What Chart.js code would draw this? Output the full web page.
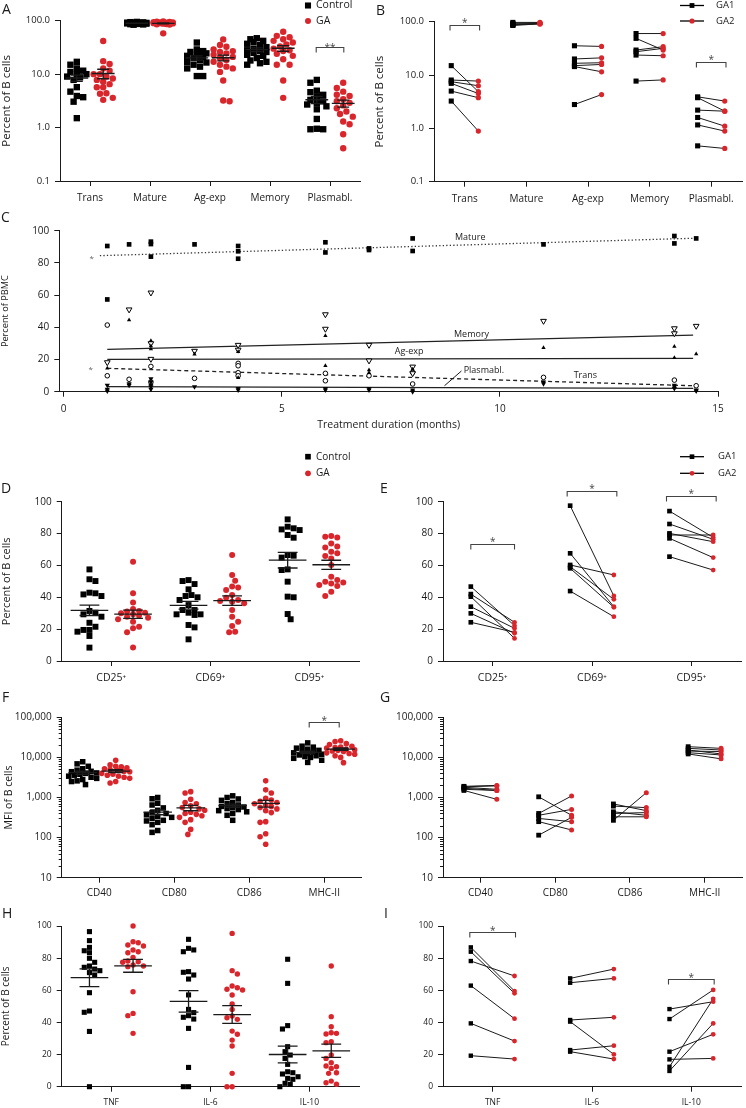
<!DOCTYPE html>
<html><head><meta charset="utf-8">
<script src="https://cdn.jsdelivr.net/npm/chart.js@4.4.1/dist/chart.umd.min.js"></script>
<style>
html,body{margin:0;padding:0;background:#fff;}
body{width:746px;height:1108px;position:relative;overflow:hidden;}
canvas{position:absolute;display:block;}
</style></head><body>
<canvas id="cA"></canvas><canvas id="cB"></canvas><canvas id="cC"></canvas>
<canvas id="cD"></canvas><canvas id="cE"></canvas><canvas id="cF"></canvas>
<canvas id="cG"></canvas><canvas id="cH"></canvas><canvas id="cI"></canvas>
<script>
// ---------------- DATA ----------------
// Panel A: % of B cells, Control vs GA (log scale)
const catA = ['Trans','Mature','Ag-exp','Memory','Plasmabl.'];
const aControl = [
  [17,15,12.8,11.6,11,10,10,8.7,7.8,9,5.7,4.7,3.9,3.7,3.05,1.5],
  [95,94,93,92,92,91,91,90,90,90,89,89,88,88,87,86,85,84],
  [39,29,27,26,24.5,23,22,21,20,18.4,17,16.5,15,13.8,12.8,9.2,9.2],
  [47,45,42,40,37,35,32,30,28,27,26,25,23,22,20,18,17,16,15],
  [7.8,6.9,4.9,4.6,4.1,3.8,3.3,3.1,2.9,2.7,2.5,2.2,1.45,0.95,0.93,0.93]
];
const aGA = [
  [41.6,17.5,15.5,12.8,11.6,10,10,9,8.3,7.8,7.2,6.5,5.7,5.7,4.4,4.3,3.6,3.3],
  [97,96,95,94,93,93,92,92,91,91,90,90,89,88,87,86,85,58],
  [44.7,35,32.6,29,27,26,24.5,23,21,20,18.4,17,15,13.8,12.8,11,7.6,3.2,3.1],
  [62,52,49,45,42,39,36,33,30,28,27,24,22,19,15,15,7.6,3.6],
  [6.9,5.5,4.7,4.1,3.9,3.4,3.1,2.9,2.6,2.3,2.0,1.8,1.6,1.3,1.15,0.75,0.41]
];
// Panel B: paired GA1 -> GA2
const catB = ['Trans','Mature','Ag-exp','Memory','Plasmabl.'];
const bGA1 = [[15,8.06,7.5,6.98,5.0,3.25],[97,93,90,88,87,85],[35.4,20,16.6,15,14.4,2.8],[60,48.7,29.4,27.4,23.7,7.7],[3.9,3.76,2.2,1.6,1.16,0.47]];
const bGA2 = [[4.87,7.7,6.3,4.5,3.76,0.89],[97,95,93,92,92,91],[34.4,21,17,15.8,11.5,4.3],[60,29.4,34,31.6,23,8.1],[3.25,2.1,2.1,1.1,0.89,0.42]];
// Panel C: % of PBMC over treatment duration (months)
const cTicksX = [0,5,10,15];
const matureMonths = [1,1,1.5,2,2,2,3,4,4,4,6,6,7,7,8,8,11,14,14,14.5];
const matureVals   = [90.5,57.3,91.5,93.2,91.7,83.9,91.5,90.5,87.2,82.6,92.8,86.5,89,88,95.2,87.4,91.5,96.7,92.1,95.2];
const memoryMonths = [1,1.5,2,2,2,3,4,4,6,6,7,7,8,8,11,14,14,14.5];
const memoryVals   = [18.2,51,61.5,30,20.3,25.3,29,26,48,39,29,19.3,15.5,11.4,43.9,39.3,36.2,40.8];
const agMonths = [1,1.5,2,2,2,3,4,4,6,6,7,7,8,11,14,14,14.5];
const agVals   = [14.5,44.5,31.7,28.4,26.5,23.2,24.8,8.7,34.8,16.1,13.5,11.8,14,27.3,28,21.1,23.4];
const transMonths = [1,1,1.5,2,2,3,4,4,4,4,6,6,7,8,8,11,14,14.5];
const transVals   = [41.4,9.9,7.7,15.7,6,8.3,17.6,16.1,11.8,9.9,11.4,6.8,9.9,12,4.8,8.9,7.2,3.7];
const plasMonths = [1,1,1,1.5,1.5,2,2,2,2,2,3,4,4,6,6,7,7,8,8,11,11,14,14,14,14.5,14.5];
const plasVals   = [4,1.5,0.5,5,4,8,6,4,3,1.5,3,2,1,2,1,2,1,1,0,6,5,4,3,2,1,0.5];
const matureTrendX = [0.83,14.43], matureTrendY = [84.5,95.3];
const memoryTrendX = [1,14.43],    memoryTrendY = [26.3,35.2];
const agTrendX = [1,14.43],        agTrendY = [20.1,20.7];
const transTrendX = [1,14.43],     transTrendY = [14.5,3.7];
const plasTrendX = [1,14.43],      plasTrendY = [3.1,2.1];
// Panel D: activation markers, Control vs GA
const catD = ['CD25\u207A','CD69\u207A','CD95\u207A'];
const dControl = [
  [57.5,51.3,50.2,42.5,42.9,41.8,40.8,31.4,30.3,29.3,27.8,24,21.5,19.5,19.5,18.4,15.7,8.4],
  [50.8,50.2,48.3,45,41.4,40.8,40,38.3,35.1,32,32,30.3,29.3,29.3,28.9,22.6,21.1,13.6],
  [88.9,84.3,83.3,82.6,82.2,79.1,77.4,66.5,66.1,64.9,57.5,57.1,49.8,40.4,40,29.5,26.2]
];
const dGA = [
  [62.3,42.5,36.8,32.6,31.4,31,30.3,29.9,29.3,28.5,27.8,27.2,26.2,24.7,21.5,20.5,18,8.4],
  [66.5,54,50.4,46.7,46.2,44.6,41.4,39.7,38.3,37.7,37.2,36.2,32,27.8,24.7,22,18.4,18],
  [78.5,78,77.6,73.8,71.8,71.3,68.6,67.6,65.9,64.4,60.3,52.9,50.8,49.8,49.2,48.7,47.7,47.1,43.5,40.8]
];
// Panel E: paired GA1 -> GA2
const catE = ['CD25\u207A','CD69\u207A','CD95\u207A'];
const eGA1 = [[46.7,42,40.4,34.1,29.9,24.3],[97.5,67.6,60.3,59.2,58.2,43.9],[94.1,86,80.1,79.1,77,65.5]];
const eGA2 = [[22.2,24.3,14.2,20.5,17.4,18],[40.8,34.1,54,38.7,33.7,27.8],[77.6,76.4,74.9,79.1,64.9,57.1]];
// Panel F: MFI of B cells, Control vs GA (log)
const catF = ['CD40','CD80','CD86','MHC-II'];
const fControl = [
  [7800,6900,6000,5200,4800,4500,4400,4100,4000,3800,3600,3400,3200,3000,2800,2600,2500,2100],
  [1000,930,720,650,550,480,420,400,370,340,320,300,270,260,240,210,150,135],
  [1100,1000,920,850,750,700,650,600,580,560,530,500,470,440,400,360,270],
  [23000,19000,18000,17000,16000,15000,14000,13500,13000,12500,12000,11500,11000,10500,10000,9500,8500,7500]
];
const fGA = [
  [8500,6500,6000,5800,5500,5200,5000,4800,4500,4400,4000,3800,3600,3400,3200,3000,2500,2300],
  [1400,1300,900,750,700,620,560,520,480,430,400,380,350,320,280,240,160,120],
  [2600,1550,1300,950,870,800,750,700,650,600,560,520,470,420,250,240,125,105,68],
  [26000,25000,22000,21000,19000,18000,17500,17000,16000,15500,15000,14500,14000,13000,12500,12000,11000,10000,7400]
];
// Panel G: paired GA1 -> GA2 (log)
const catG = ['CD40','CD80','CD86','MHC-II'];
const gGA1 = [[1900,1850,1800,1700,1600,1500],[1040,400,360,300,250,115],[690,610,440,400,330,270],[18500,16800,15300,14400,13100,12200]];
const gGA2 = [[2000,1950,1600,1500,1500,900],[360,1090,505,250,155,320],[470,560,360,420,330,1320],[16800,15300,12200,14000,11500,9200]];
// Panel H: cytokines, Control vs GA
const catH = ['TNF','IL-6','IL-10'];
const hControl = [
  [96.5,90.9,86.7,84.6,83.4,79.9,77.4,75.1,74.3,73.2,72.2,71,69.5,58.5,47.1,46.3,34.4,0],
  [91.7,86.1,85.1,84,71.6,71.2,69.5,67,57.1,48.1,46.1,44.2,43.2,42.1,36.3,12,0,0],
  [79.3,64.3,38,35.9,24.9,21.8,19.7,17.6,13.9,9.3,8.7,7.9,6.2,5.2,4.6,2.1,1.5,0]
];
const hGA = [
  [100,90.2,89.6,88.2,87.6,85.1,84,83.4,80.5,78.2,77.8,77.4,75.7,75.1,74.7,59.1,45.6,44.2,33.2],
  [95.4,72.2,70.1,62.7,61.6,60.6,60.2,57.1,51.5,48.1,44,42.9,41.9,34.6,32.6,29,25.3,8.3,0,0],
  [75.1,43.6,37.3,33.6,33.2,32.8,28,27.4,19.7,17.6,14.9,12.9,12.4,11.4,8.7,8.3,3.5,2.5,1.5]
];
// Panel I: paired GA1 -> GA2
const catI = ['TNF','IL-6','IL-10'];
const iGA1 = [[86.7,84,78.2,62.9,39.4,19.3],[67.4,64.7,41.5,40.5,22.8,21.8],[48.3,42.1,21.8,17,12.4,9.8]];
const iGA2 = [[59.5,58.1,68.9,42.3,28.4,17.2],[73.2,67.4,43.2,20.1,25.5,17.2],[52.9,60.2,32.6,17.6,54.6,39.4]];
const linTicks = [0,20,40,60,80,100];

// ---------------- HELPERS ----------------
const RED = '#d9262c';
const INK = '#1a1a1a';
const FONT = "'Open Sans', 'Noto Sans', 'DejaVu Sans', sans-serif";
Chart.defaults.font.family = FONT;
Chart.defaults.color = INK;
const SIDE = 0.22, MEAN_HALF = 0.19, CAP_HALF = 0.1;

const mean = a => a.reduce((s,v)=>s+v,0)/a.length;
const sem = a => { const m=mean(a); const v=a.reduce((s,x)=>s+(x-m)*(x-m),0)/(a.length-1); return Math.sqrt(v/a.length); };
const zip = (xs, ys) => xs.map((x,i)=>({x:x, y:ys[i]}));

function geometry(area, xmin, xmax, ymin, ymax, log) {
  const xs = (area.r-area.l)/(xmax-xmin), h = area.b-area.t;
  const yPx = log ? v => area.b - (Math.log10(v)-Math.log10(ymin))/(Math.log10(ymax)-Math.log10(ymin))*h
                  : v => area.b - (v-ymin)/(ymax-ymin)*h;
  return {xs, yPx};
}
function beeswarm(values, yPx, d, maxHalf) {
  const order = values.map((v,i)=>i).sort((a,b)=>values[b]-values[a]);
  const step = d*0.5, cands=[0];
  for (let k=1; k*step<=maxHalf+1e-9; k++) cands.push(k*step, -k*step);
  const placed=[], off=new Array(values.length).fill(0);
  order.forEach((i,n)=>{
    const py = yPx(values[i]);
    let best=0, bestD=-1;
    for (const c0 of cands) {
      const c = (n%2) ? -c0 : c0;
      let md = Infinity;
      for (const p of placed) { const dd=Math.hypot(c-p.x, py-p.y); if (dd<md) md=dd; }
      if (md>=d) { best=c; bestD=md; break; }
      if (md>bestD) { bestD=md; best=c; }
    }
    off[i]=best; placed.push({x:best,y:py});
  });
  return off;
}
function swarm(groups, side, g, d, half) {
  const pts=[];
  groups.forEach((vals,i)=>{
    const off = beeswarm(vals, g.yPx, d, half);
    vals.forEach((v,k)=>pts.push({x:i+side*SIDE+off[k]/g.xs, y:v}));
  });
  return pts;
}
function meanSem(groups, side) {
  const seg=[];
  groups.forEach((vals,i)=>{
    const c=i+side*SIDE, m=mean(vals), s=sem(vals);
    seg.push({x:c-MEAN_HALF,y:m},{x:c+MEAN_HALF,y:m},{x:c,y:null},
             {x:c,y:m-s},{x:c,y:m+s},{x:c,y:null},
             {x:c-CAP_HALF,y:m+s},{x:c+CAP_HALF,y:m+s},{x:c,y:null},
             {x:c-CAP_HALF,y:m-s},{x:c+CAP_HALF,y:m-s},{x:c,y:null});
  });
  return seg;
}
function swarmSets(ctrl, ga, g, st) {
  return [
    {type:'line', data:meanSem(ctrl,-1).concat(meanSem(ga,1)), borderColor:INK, borderWidth:1.3, pointRadius:0, spanGaps:false, clip:false, order:0},
    {type:'scatter', data:swarm(ga,1,g,st.d,st.half), pointStyle:'circle', pointRadius:st.rc, pointBackgroundColor:RED, pointBorderWidth:0, clip:false, order:1},
    {type:'scatter', data:swarm(ctrl,-1,g,st.d,st.half), pointStyle:'rect', pointRadius:st.rs, pointBackgroundColor:'#000', pointBorderWidth:0, clip:false, order:2}
  ];
}
function pairSets(a, b, st) {
  const p1=[], p2=[], seg=[];
  a.forEach((vals,i)=>vals.forEach((v,k)=>{
    const x1=i-SIDE, x2=i+SIDE, w=b[i][k];
    p1.push({x:x1,y:v}); p2.push({x:x2,y:w});
    seg.push({x:x1,y:v},{x:x2,y:w},{x:i,y:null});
  }));
  return [
    {type:'scatter', data:p1, pointStyle:'rect', pointRadius:st.rs, pointBackgroundColor:'#000', pointBorderWidth:0, clip:false, order:0},
    {type:'scatter', data:p2, pointStyle:'circle', pointRadius:st.rc, pointBackgroundColor:RED, pointBorderWidth:0, clip:false, order:1},
    {type:'line', data:seg, borderColor:INK, borderWidth:1, pointRadius:0, spanGaps:false, clip:false, order:2}
  ];
}
function drawMarker(ctx, style, x, y, r, color) {
  ctx.fillStyle=color; ctx.beginPath();
  if (style==='rect') { const s=r*Math.SQRT1_2; ctx.rect(x-s,y-s,2*s,2*s); }
  else ctx.arc(x,y,r,0,Math.PI*2);
  ctx.fill();
}
function extras(P) {
  return { id:'extras', afterDraw(chart) {
    const ctx=chart.ctx, xs=chart.scales.x, ys=chart.scales.y, ox=P.box.x, oy=P.box.y, E=P.extras||{};
    ctx.save();
    if (E.minor) {
      const lo=Math.round(Math.log10(P.y.min)), hi=Math.round(Math.log10(P.y.max)), xL=chart.chartArea.left;
      ctx.strokeStyle=INK; ctx.lineWidth=1; ctx.beginPath();
      for (let e=lo;e<hi;e++) for (let k=2;k<=9;k++) {
        const py=Math.round(ys.getPixelForValue(k*Math.pow(10,e)))+0.5;
        ctx.moveTo(xL-3,py); ctx.lineTo(xL,py);
      }
      ctx.stroke();
    }
    (E.brackets||[]).forEach(b=>{
      const x1=xs.getPixelForValue(b.x1), x2=xs.getPixelForValue(b.x2), y=Math.round(ys.getPixelForValue(b.y))+0.5;
      ctx.strokeStyle='#444'; ctx.lineWidth=1.1;
      ctx.beginPath(); ctx.moveTo(x1,y+5); ctx.lineTo(x1,y); ctx.lineTo(x2,y); ctx.lineTo(x2,y+5); ctx.stroke();
      ctx.fillStyle='#444'; ctx.font='10px '+FONT; ctx.textAlign='center'; ctx.textBaseline='alphabetic';
      ctx.fillText(b.text,(x1+x2)/2,y-(b.dy!==undefined?b.dy:3.5)+4);
    });
    (E.legend||[]).forEach(L=>{
      const y=L.y-oy;
      if (L.line) { ctx.strokeStyle='#000'; ctx.lineWidth=1.3; ctx.beginPath(); ctx.moveTo(L.line[0]-ox,y); ctx.lineTo(L.line[1]-ox,y); ctx.stroke(); }
      drawMarker(ctx,L.style,L.x-ox,y,L.r,L.color);
      ctx.fillStyle=INK; ctx.font=(L.size||10)+'px '+FONT; ctx.textAlign='left'; ctx.textBaseline='middle';
      ctx.fillText(L.text,L.tx-ox,y);
    });
    (E.dataLines||[]).forEach(l=>{
      ctx.strokeStyle=INK; ctx.lineWidth=1; ctx.beginPath();
      ctx.moveTo(xs.getPixelForValue(l.x1),ys.getPixelForValue(l.y1));
      ctx.lineTo(xs.getPixelForValue(l.x2),ys.getPixelForValue(l.y2)); ctx.stroke();
    });
    (E.dataText||[]).forEach(t=>{
      ctx.fillStyle=t.color||INK; ctx.font=(t.size||9)+'px '+FONT; ctx.textAlign=t.align||'center'; ctx.textBaseline='middle';
      ctx.fillText(t.text,xs.getPixelForValue(t.x),ys.getPixelForValue(t.y));
    });
    (E.pageText||[]).forEach(t=>{
      ctx.fillStyle=t.color||INK; ctx.font=(t.size||14)+'px '+FONT; ctx.textAlign=t.align||'left'; ctx.textBaseline='alphabetic';
      ctx.fillText(t.text,t.x-ox,t.y-oy);
    });
    ctx.restore();
  }};
}
function build(id, P) {
  const cv=document.getElementById(id);
  cv.width=P.box.w; cv.height=P.box.h;
  Object.assign(cv.style,{left:P.box.x+'px',top:P.box.y+'px',width:P.box.w+'px',height:P.box.h+'px'});
  const yW=P.area.l-P.box.x, xH=P.box.y+P.box.h-P.area.b;
  const grid=()=>({display:true,drawOnChartArea:false,drawTicks:true,tickLength:5,color:INK,lineWidth:1});
  const border=()=>({display:true,color:INK,width:1});
  const yTitle = P.y.title ? {display:true,text:P.y.title,font:{size:P.y.titleSize},color:INK,padding:{top:P.y.titlePad||0,bottom:0}} : {display:false};
  const xTitle = P.x.title ? {display:true,text:P.x.title,font:{size:P.x.titleSize},color:INK,padding:{top:0,bottom:0}} : {display:false};
  return new Chart(cv,{
    type:'scatter',
    data:{datasets:P.datasets},
    options:{
      responsive:false, maintainAspectRatio:false, animation:false, devicePixelRatio:1, events:[],
      layout:{padding:{left:0,top:P.area.t-P.box.y,right:P.box.x+P.box.w-P.area.r,bottom:0}},
      plugins:{legend:{display:false},tooltip:{enabled:false}},
      scales:{
        x:{type:'linear',position:'bottom',min:P.x.min,max:P.x.max,
          afterBuildTicks:s=>{s.ticks=P.x.ticks.map(v=>({value:v}));},
          afterFit:s=>{s.height=xH;},
          ticks:{callback:v=>P.x.labels?P.x.labels[v]:String(v),font:{size:P.x.size},color:INK,padding:P.x.pad,maxRotation:0,minRotation:0,autoSkip:false},
          grid:grid(), border:border(), title:xTitle},
        y:{type:P.y.type,position:'left',min:P.y.min,max:P.y.max,
          afterBuildTicks:s=>{s.ticks=P.y.ticks.map(v=>({value:v}));},
          afterFit:s=>{s.width=yW;},
          ticks:{callback:P.y.fmt,font:{size:P.y.size},color:INK,padding:5,autoSkip:false},
          grid:grid(), border:border(), title:yTitle}
      }
    },
    plugins:[extras(P)]
  });
}
const fmt1 = v => Number(v).toFixed(1);
const fmtC = v => Number(v).toLocaleString('en-US');
const fmtI = v => String(v);

// ---------------- PANELS ----------------
// A
const areaA={l:60,t:20.7,r:360,b:181};
build('cA',{box:{x:0,y:0,w:373,h:212},area:areaA,
  x:{min:-0.5,max:4.5,ticks:[0,1,2,3,4],labels:catA,size:10,pad:6},
  y:{type:'logarithmic',min:0.1,max:100,ticks:[0.1,1,10,100],fmt:fmt1,size:9.5,title:'Percent of B cells',titleSize:11.5},
  datasets:swarmSets(aControl,aGA,geometry(areaA,-0.5,4.5,0.1,100,true),{d:6.4,half:12,rs:4.5,rc:3.2}),
  extras:{brackets:[{x1:4-0.23,x2:4+0.23,y:32.6,text:'**',dy:1}],
    legend:[{x:308,y:5.5,style:'rect',r:4.3,color:'#000',text:'Control',tx:316,size:10.5},
            {x:308,y:21,style:'circle',r:3,color:RED,text:'GA',tx:316,size:10.5}],
    pageText:[{text:'A',x:2,y:14,size:14}]}});
// B
const areaB={l:434,t:21.7,r:743,b:181.7};
build('cB',{box:{x:373,y:0,w:373,h:212},area:areaB,
  x:{min:-0.5,max:4.5,ticks:[0,1,2,3,4],labels:catB,size:10,pad:6},
  y:{type:'logarithmic',min:0.1,max:100,ticks:[0.1,1,10,100],fmt:fmt1,size:9.5,title:'Percent of B cells',titleSize:11.5,titlePad:0},
  datasets:pairSets(bGA1,bGA2,{rs:3.6,rc:2.6}),
  extras:{brackets:[{x1:-0.24,x2:0.24,y:86.7,text:'*'},{x1:3.76,x2:4.24,y:17.8,text:'*'}],
    legend:[{x:692,y:5.5,line:[680,704],style:'rect',r:3.4,color:'#000',text:'GA1',tx:716,size:9.5},
            {x:692,y:21,line:[680,704],style:'circle',r:2.6,color:RED,text:'GA2',tx:716,size:9.5}],
    pageText:[{text:'B',x:376,y:15,size:14}]}});
// C
const areaC={l:59.3,t:230.7,r:718,b:391.7};
build('cC',{box:{x:0,y:212,w:746,h:219},area:areaC,
  x:{min:-0.1,max:15,ticks:cTicksX,size:10,pad:6.5,title:'Treatment duration (months)',titleSize:10.5},
  y:{type:'linear',min:0,max:100,ticks:linTicks,fmt:fmtI,size:10,title:'Percent of PBMC',titleSize:9.2},
  datasets:[
    {type:'scatter',data:zip(matureMonths,matureVals),pointStyle:'rect',pointRadius:3.3,pointBackgroundColor:'#000',pointBorderWidth:0,clip:false,order:1},
    {type:'scatter',data:zip(memoryMonths,memoryVals),pointStyle:'triangle',pointRotation:180,pointRadius:3.3,pointBackgroundColor:'#fff',pointBorderColor:'#000',pointBorderWidth:1,clip:false,order:2},
    {type:'scatter',data:zip(agMonths,agVals),pointStyle:'triangle',pointRadius:2.5,pointBackgroundColor:'#000',pointBorderWidth:0,clip:false,order:1},
    {type:'scatter',data:zip(transMonths,transVals),pointStyle:'circle',pointRadius:2.3,pointBackgroundColor:'#fff',pointBorderColor:'#000',pointBorderWidth:1,clip:false,order:2},
    {type:'scatter',data:zip(plasMonths,plasVals),pointStyle:'triangle',pointRotation:180,pointRadius:3,pointBackgroundColor:'#000',pointBorderWidth:0,clip:false,order:1},
    {type:'line',data:zip(matureTrendX,matureTrendY),borderColor:'#333',borderWidth:1.3,borderDash:[1.3,2.2],pointRadius:0,clip:false,order:3},
    {type:'line',data:zip(memoryTrendX,memoryTrendY),borderColor:'#222',borderWidth:1.3,pointRadius:0,clip:false,order:3},
    {type:'line',data:zip(agTrendX,agTrendY),borderColor:'#222',borderWidth:1.3,pointRadius:0,clip:false,order:3},
    {type:'line',data:zip(transTrendX,transTrendY),borderColor:'#222',borderWidth:1.3,borderDash:[4,3],pointRadius:0,clip:false,order:3},
    {type:'line',data:zip(plasTrendX,plasTrendY),borderColor:'#222',borderWidth:1.3,pointRadius:0,clip:false,order:3}
  ],
  extras:{
    dataText:[{text:'Mature',x:9.32,y:95.6},{text:'Memory',x:9.35,y:35.6},{text:'Ag-exp',x:7.92,y:24.8},
              {text:'Plasmabl.',x:9.17,y:12.9,align:'left'},{text:'Trans',x:11.96,y:9.9},
              {text:'*',x:0.64,y:82.5,color:'#666',size:8},{text:'*',x:0.62,y:13.7,color:'#666',size:8}],
    dataLines:[{x1:9.12,y1:12.9,x2:8.73,y2:3.7}],
    pageText:[{text:'C',x:1,y:222,size:14}]}});
// D
const areaD={l:61.7,t:501.7,r:359,b:661};
build('cD',{box:{x:0,y:440,w:373,h:245},area:areaD,
  x:{min:-0.5,max:2.5,ticks:[0,1,2],labels:catD,size:10.5,pad:6},
  y:{type:'linear',min:0,max:100,ticks:linTicks,fmt:fmtI,size:10,title:'Percent of B cells',titleSize:11},
  datasets:swarmSets(dControl,dGA,geometry(areaD,-0.5,2.5,0,100,false),{d:6,half:15,rs:4.2,rc:3}),
  extras:{legend:[{x:308,y:456.7,style:'rect',r:4,color:'#000',text:'Control',tx:316,size:10},
                  {x:308,y:473.3,style:'circle',r:2.9,color:RED,text:'GA',tx:316,size:10}],
    pageText:[{text:'D',x:1,y:493,size:14}]}});
// E
const areaE={l:443,t:501.7,r:741,b:661};
build('cE',{box:{x:373,y:440,w:373,h:245},area:areaE,
  x:{min:-0.5,max:2.5,ticks:[0,1,2],labels:catE,size:10.5,pad:6},
  y:{type:'linear',min:0,max:100,ticks:linTicks,fmt:fmtI,size:10},
  datasets:pairSets(eGA1,eGA2,{rs:3.3,rc:2.4}),
  extras:{brackets:[{x1:-0.22,x2:0.22,y:73.4,text:'*'},{x1:0.75,x2:1.25,y:106.7,text:'*'},{x1:1.75,x2:2.25,y:103.6,text:'*'}],
    legend:[{x:692,y:456.7,line:[680,704],style:'rect',r:3.3,color:'#000',text:'GA1',tx:718,size:9.5},
            {x:692,y:473.3,line:[680,704],style:'circle',r:2.4,color:RED,text:'GA2',tx:718,size:9.5}],
    pageText:[{text:'E',x:380,y:493,size:14}]}});
// F
const areaF={l:61.7,t:717.3,r:361.7,b:877.7};
build('cF',{box:{x:0,y:685,w:373,h:215},area:areaF,
  x:{min:-0.5,max:3.5,ticks:[0,1,2,3],labels:catF,size:10,pad:4.5},
  y:{type:'logarithmic',min:10,max:100000,ticks:[10,100,1000,10000,100000],fmt:fmtC,size:10,title:'MFI of B cells',titleSize:10.5,titlePad:2.5},
  datasets:swarmSets(fControl,fGA,geometry(areaF,-0.5,3.5,10,100000,true),{d:5.6,half:14,rs:3.9,rc:2.8}),
  extras:{minor:true,brackets:[{x1:3-0.2,x2:3+0.2,y:77600,text:'*',dy:3}],
    pageText:[{text:'F',x:2,y:702,size:14}]}});
// G
const areaG={l:443,t:717.3,r:743,b:877.7};
build('cG',{box:{x:373,y:685,w:373,h:215},area:areaG,
  x:{min:-0.5,max:3.5,ticks:[0,1,2,3],labels:catG,size:10,pad:4.5},
  y:{type:'logarithmic',min:10,max:100000,ticks:[10,100,1000,10000,100000],fmt:fmtC,size:10},
  datasets:pairSets(gGA1,gGA2,{rs:3.4,rc:2.5}),
  extras:{minor:true,pageText:[{text:'G',x:380,y:702,size:14}]}});
// H
const areaH={l:61.7,t:926,r:359,b:1086.7};
build('cH',{box:{x:0,y:900,w:373,h:208},area:areaH,
  x:{min:-0.5,max:2.5,ticks:[0,1,2],labels:catH,size:8.5,pad:6},
  y:{type:'linear',min:0,max:100,ticks:linTicks,fmt:fmtI,size:8.5,title:'Percent of B cells',titleSize:10},
  datasets:swarmSets(hControl,hGA,geometry(areaH,-0.5,2.5,0,100,false),{d:5.2,half:15,rs:3.6,rc:2.7}),
  extras:{pageText:[{text:'H',x:2,y:918,size:14}]}});
// I
const areaI={l:443,t:926,r:741,b:1086.7};
build('cI',{box:{x:373,y:900,w:373,h:208},area:areaI,
  x:{min:-0.5,max:2.5,ticks:[0,1,2],labels:catI,size:8.5,pad:6},
  y:{type:'linear',min:0,max:100,ticks:linTicks,fmt:fmtI,size:8.5},
  datasets:pairSets(iGA1,iGA2,{rs:3.1,rc:2.4}),
  extras:{brackets:[{x1:-0.23,x2:0.23,y:96.5,text:'*',dy:3},{x1:1.77,x2:2.23,y:66.8,text:'*',dy:3}],
    pageText:[{text:'I',x:384,y:918,size:14}]}});
</script>
</body></html>
